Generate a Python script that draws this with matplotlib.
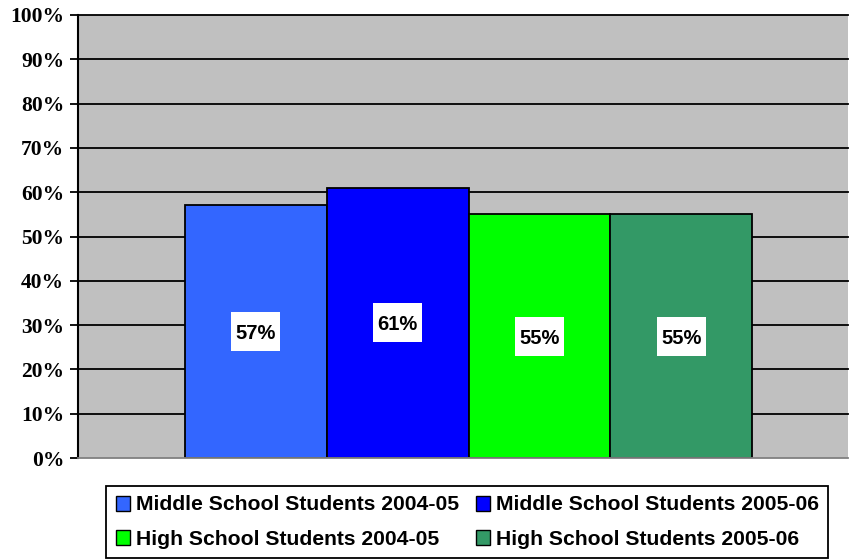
import matplotlib.pyplot as plt
from matplotlib.patches import Patch, Rectangle

# Chart data
categories = ['Middle School Students 2004-05', 'Middle School Students 2005-06',
              'High School Students 2004-05', 'High School Students 2005-06']
values = [57, 61, 55, 55]
colors = ['#3366FF', '#0000FF', '#00FF00', '#339966']
y_ticks = [0, 10, 20, 30, 40, 50, 60, 70, 80, 90, 100]

fig = plt.figure(figsize=(8.49, 5.59), dpi=100)
ax = fig.add_axes([78 / 849, 1 - 458 / 559, 770 / 849, 443 / 559])
ax.set_facecolor('#C0C0C0')

# Gridlines behind the bars
for t in y_ticks[1:]:
    ax.axhline(t, color='black', linewidth=1.3, zorder=1, clip_on=False)

x = list(range(len(values)))
bars = ax.bar(x, values, width=1.0, color=colors, edgecolor='black', linewidth=1.3, zorder=2)

# Value labels in white boxes, centred in the bars
box_w, box_h = 0.345, 8.8
for xi, v in zip(x, values):
    ax.add_patch(Rectangle((xi - box_w / 2, v / 2 - box_h / 2), box_w, box_h,
                           facecolor='white', edgecolor='none', zorder=3))
    ax.text(xi, v / 2, f'{v}%', ha='center', va='center_baseline', fontsize=14.5,
            fontweight='bold', family='Liberation Sans', zorder=4)

ax.set_xlim(-1.254, 4.176)
ax.set_ylim(0, 100)
ax.set_yticks(y_ticks)
ax.set_yticklabels([f'{t}%' for t in y_ticks], family='Liberation Serif',
                   fontweight='bold', fontsize=15.5)
ax.set_xticks([])
ax.tick_params(axis='y', length=6, width=1.3, pad=4)

for side in ['top', 'right']:
    ax.spines[side].set_visible(False)
ax.spines['left'].set_linewidth(1.5)
ax.spines['bottom'].set_color('#808080')
ax.spines['bottom'].set_linewidth(1.3)

# Legend (column-wise fill -> reorder so rows read MS then HS)
handles = [Patch(facecolor=c, edgecolor='black', linewidth=1) for c in colors]
order = [0, 2, 1, 3]
leg = fig.legend([handles[i] for i in order], [categories[i] for i in order],
                 ncol=2, loc='upper left', bbox_to_anchor=(106 / 849, 1 - 486 / 559),
                 prop={'family': 'Liberation Sans', 'weight': 'bold', 'size': 15.2},
                 frameon=True, fancybox=False, edgecolor='black', framealpha=1,
                 handlelength=0.7, handleheight=0.7, handletextpad=0.25,
                 columnspacing=0.8, borderpad=0.45, labelspacing=0.72, borderaxespad=0)
leg.get_frame().set_linewidth(1.3)

fig.savefig('out.png', dpi=100)
